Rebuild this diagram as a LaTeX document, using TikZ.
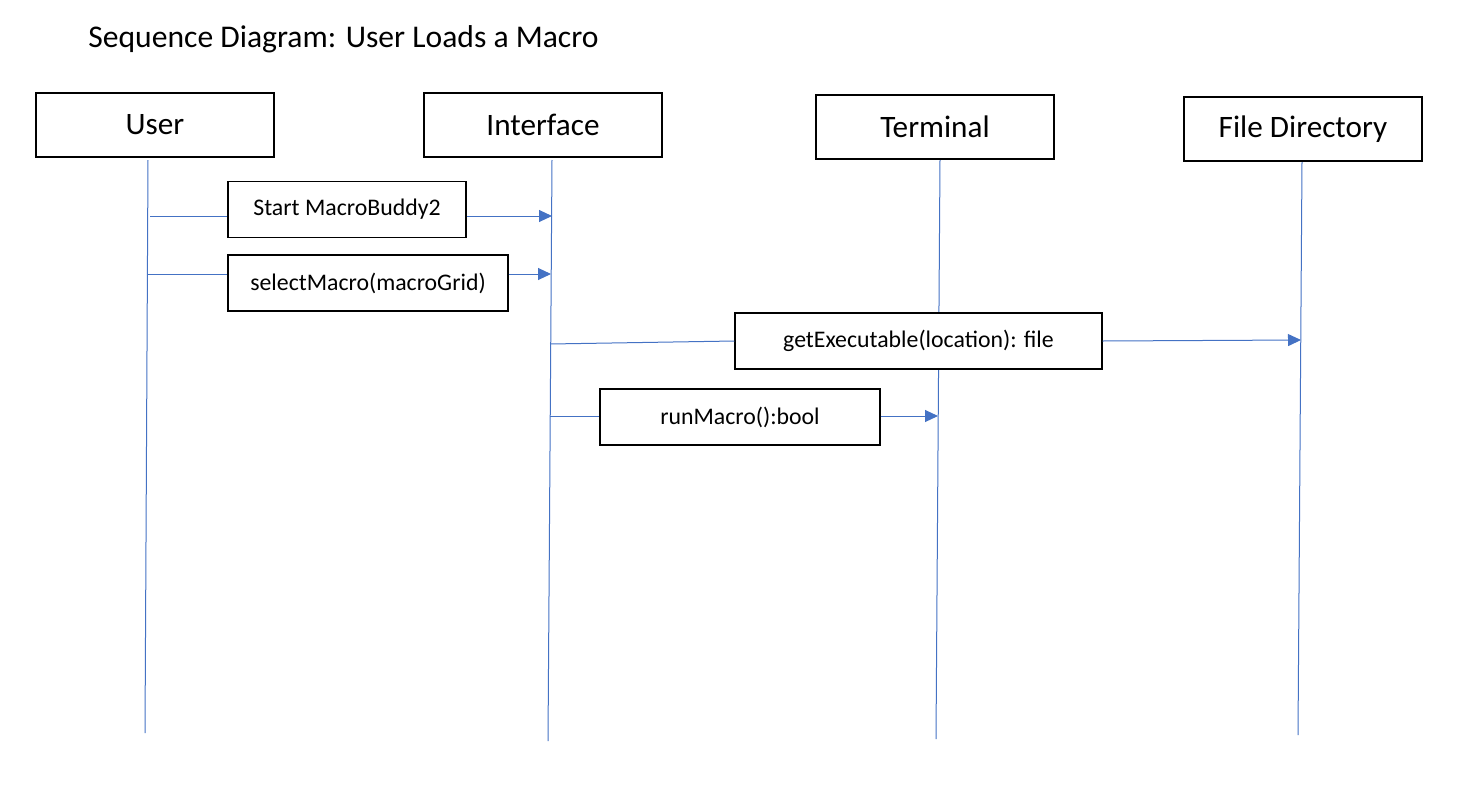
\documentclass[tikz,border=0pt]{standalone}
\usepackage{fontspec}
\setmainfont{Carlito}
\usetikzlibrary{arrows.meta}
\definecolor{lineblue}{HTML}{4472C4}
\begin{document}
\begin{tikzpicture}[x=0.5pt,y=-0.5pt,
  actor/.style={draw=black, fill=white, line width=0.6pt, minimum width=119pt, minimum height=32pt, inner sep=0pt, font=\fontsize{15.6}{18}\selectfont},
  msgbox/.style={draw=black, fill=white, line width=0.6pt, minimum height=28pt, inner sep=0pt, font=\fontsize{11.9}{14}\selectfont},
  life/.style={draw=lineblue, line width=0.5pt},
  msg/.style={draw=lineblue, line width=0.5pt},
  arr/.style={-{Triangle[length=6.5pt,width=6pt]}}]
\useasboundingbox (0,0) rectangle (1458,798);

\node[anchor=base west, font=\fontsize{15.8}{18}\selectfont, inner sep=0pt] (title) at (88,47) {Sequence Diagram: User Loads a Macro};

% lifeline end points
\coordinate (uT) at (148,160); \coordinate (uB) at (145,733);
\coordinate (iT) at (552,160); \coordinate (iB) at (548,741);
\coordinate (tT) at (940,160); \coordinate (tB) at (936,739);
\coordinate (fT) at (1302,162); \coordinate (fB) at (1298,735);

\draw[life] (uT) -- (uB);
\draw[life] (iT) -- (iB);
\draw[life] (tT) -- (tB);
\draw[life] (fT) -- (fB);

% actors
\node[actor] (user) at (155,125) {User};
\node[actor] (iface) at (543,125) {Interface};
\node[actor] (term) at (935,127) {Terminal};
\node[actor] (fdir) at (1303,129) {File Directory};

% message 1
\node[msgbox, minimum width=119pt] (m1) at (347,209.5) {Start MacroBuddy2};
\coordinate (m1s) at (150,216); \coordinate (m1e) at (552,216);
\draw[msg] (m1s) -- (m1s -| m1.west);
\draw[msg, arr] (m1e -| m1.east) -- (m1e);

% message 2
\node[msgbox, minimum width=140pt] (m2) at (368,283) {selectMacro(macroGrid)};
\coordinate (m2s) at (147,274); \coordinate (m2e) at (551,274);
\draw[msg] (m2s) -- (m2s -| m2.west);
\draw[msg, arr] (m2e -| m2.east) -- (m2e);

% message 3
\node[msgbox, minimum width=183.5pt] (m3) at (918.5,341) {getExecutable(location): file};
\coordinate (m3s) at (550,344); \coordinate (m3e) at (1301,340);
\draw[msg] (m3s) -- (m3.west);
\draw[msg, arr] (m3.east) -- (m3e);

% message 4
\node[msgbox, minimum width=140pt] (m4) at (740,417) {runMacro():bool};
\coordinate (m4s) at (550,416); \coordinate (m4e) at (938,416);
\draw[msg] (m4s) -- (m4s -| m4.west);
\draw[msg, arr] (m4e -| m4.east) -- (m4e);
\end{tikzpicture}
\end{document}
